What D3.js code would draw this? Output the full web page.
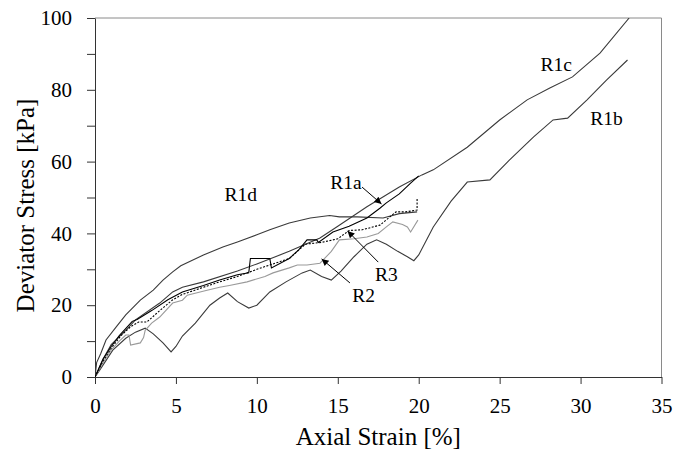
<!DOCTYPE html>
<html>
<head>
<meta charset="utf-8">
<script src="https://cdn.jsdelivr.net/npm/d3@7"></script>
<style>
  body { margin: 0; background: #fff; }
</style>
</head>
<body>
<div id="chart"></div>
<script>
// Deviator stress vs axial strain, six tests

const xTicks = [0, 5, 10, 15, 20, 25, 30, 35]
const yTicks = [0, 20, 40, 60, 80, 100]
const yMinor = [10, 30, 50, 70, 90]

// [strain %, stress kPa]
const r1a = [[0,0],[0.5,5],[1,8.5],[1.5,11.5],[2.3,15.5],[2.6,16],[3.5,18.5],[4.5,21.5],[5.4,23.7],[6.7,25.5],[7.7,27],[8.8,28.5],[9.5,29],[9.6,33],[10.8,33],[10.9,30.4],[12,33],[12.6,35.5],[13.1,38.2],[13.7,38.2],[13.8,37.5],[14.7,40.4],[15.7,42],[16.8,44.3],[17.6,47],[18,48.5],[18.8,51],[19.5,54],[20,56]]
const r1b = [[0,0],[0.3,2],[1.1,7.5],[1.9,10.8],[2.5,12.5],[3.1,13.6],[3.6,12],[4.2,9.5],[4.7,7],[5,8.5],[5.4,11.4],[6.2,15],[7.1,20],[7.7,22],[8.2,23.4],[8.8,21],[9.5,19.2],[10,20],[10.8,23.7],[11.8,26.5],[12.8,29],[13.3,29.8],[14,28],[14.6,27],[15.2,29.5],[16,33.5],[16.8,37],[17.4,38.2],[18,37],[18.7,35],[19.3,33.5],[19.7,32.4],[20,34],[20.9,41.8],[22,49],[23,54.3],[24.4,54.9],[25.6,60.4],[27.1,66.9],[28.3,71.6],[29.2,72.1],[30.4,77.2],[31.6,82.7],[32.9,88.3]]
const r1c = [[0,0],[0.5,5],[1,9],[1.9,13],[2.5,15.9],[4,20.6],[4.8,23.7],[5.4,25],[6.7,26.5],[8.8,29.5],[10,31.5],[12,35],[13.9,38.7],[15,42],[16.8,47.4],[18.8,52.9],[20.2,56.3],[20.9,57.7],[23,64],[25,71.6],[26.7,77.2],[28.1,80.5],[29.5,83.6],[31.2,90.2],[33,100]]
const r1d = [[0,0],[0.1,4],[0.35,6.5],[0.68,10.3],[1.3,13.9],[1.9,17.3],[2.8,21.4],[3.6,24.2],[4.2,27],[4.8,29.3],[5.3,31],[6.7,34],[7.9,36.2],[8.8,37.6],[10,39.6],[10.8,41],[12,42.9],[13.3,44.3],[14.5,45],[15.1,44.6],[16.2,44.6],[17.8,44.3],[18.8,45.5],[19.9,46]]
const r2 = [[0,0],[0.5,4],[1,7.5],[1.5,10],[1.9,11.7],[2.1,11.7],[2.2,8.9],[2.8,9.5],[3,11],[3.1,13],[3.5,15],[4,16.7],[4.8,20.6],[5.4,21.4],[5.7,22.8],[6.8,24],[7.7,25],[8.3,25.5],[9.4,26.5],[10.5,28],[11,29],[12,30.4],[12.5,31.2],[13.1,31.2],[13.9,31.7],[14.1,32.6],[14.6,35],[15.1,38.2],[16,38.5],[16.8,39],[17.5,40],[18,41.8],[18.4,43.2],[19,42.5],[19.3,41.8],[19.5,40.4],[19.95,43.7]]
const r3 = [[0,0],[0.5,4.5],[1,8],[1.6,11.5],[2.2,14],[2.7,15.3],[3.2,15.3],[4,18.5],[4.8,21.5],[5.4,23],[6.7,25],[7.7,26.5],[8.8,28],[10,30],[11,31.5],[12,33],[13,37],[14,37.5],[15,38.5],[15.7,40.8],[16.5,41],[17.6,42.3],[18.6,46],[19.2,46],[19.9,46.5],[19.9,50]]

const series = [
  { data: r1b, color: '#3a3a3a', dash: null },
  { data: r1c, color: '#3a3a3a', dash: null },
  { data: r1d, color: '#3a3a3a', dash: null },
  { data: r2, color: '#9a9a9a', dash: null },
  { data: r3, color: '#000', dash: '2,1.5' },
  { data: r1a, color: '#000', dash: null }
]

// label text, label position, optional arrow [from, to]
const labels = [
  { text: 'R1c', at: [28.5, 87.2] },
  { text: 'R1b', at: [31.6, 72.2] },
  { text: 'R1d', at: [9, 50.8] },
  { text: 'R1a', at: [15.5, 54.4], arrow: [[16.5, 52.9], [17.7, 48.2]] },
  { text: 'R3', at: [18, 28.7], arrow: [[17.5, 32], [15.6, 40.7]] },
  { text: 'R2', at: [16.6, 22.9], arrow: [[15.75, 26.2], [14.0, 32.9]] }
]

const serif = 'Liberation Serif'
const width = 677
const height = 454
const margin = { top: 18, right: 15.5, bottom: 77, left: 95 }

const svg = d3.select('#chart')
  .append('svg')
  .attr('width', width)
  .attr('height', height)
  .attr('font-family', serif)

const xScale = d3.scaleLinear()
  .domain([0, 35])
  .range([margin.left, width - margin.right])

const yScale = d3.scaleLinear()
  .domain([0, 100])
  .range([height - margin.bottom, margin.top])

// frame, top and right
svg.append('path')
  .attr('d', `M${xScale(0)},${yScale(100)}H${xScale(35)}V${yScale(0)}`)
  .attr('fill', 'none')
  .attr('stroke', '#8a8a8a')
  .attr('stroke-width', 1)

// axes
svg.append('g')
  .attr('transform', `translate(0, ${yScale(0)})`)
  .call(d3.axisBottom(xScale).tickValues(xTicks).tickSize(7).tickSizeOuter(0).tickPadding(14))
svg.append('g')
  .attr('transform', `translate(${xScale(0)}, 0)`)
  .call(d3.axisLeft(yScale).tickValues(yTicks).tickSize(8).tickSizeOuter(0).tickPadding(15))
svg.append('g')
  .attr('transform', `translate(${xScale(0)}, 0)`)
  .call(d3.axisLeft(yScale).tickValues(yMinor).tickSize(8).tickSizeOuter(0).tickFormat(''))
  .select('.domain').remove()

svg.selectAll('g').attr('font-family', serif).attr('font-size', 21)
svg.selectAll('.domain, .tick line').attr('stroke', '#333')
svg.selectAll('.tick text').attr('fill', '#000')

// axis titles
svg.append('text')
  .attr('x', (xScale(0) + xScale(35)) / 2)
  .attr('y', 445)
  .attr('text-anchor', 'middle')
  .attr('font-size', 25)
  .text('Axial Strain [%]')

svg.append('text')
  .attr('transform', `translate(34, ${(yScale(0) + yScale(100)) / 2 + 8}) rotate(-90)`)
  .attr('text-anchor', 'middle')
  .attr('font-size', 25)
  .text('Deviator Stress [kPa]')

// lines
const clip = svg.append('clipPath').attr('id', 'plot')
clip.append('rect')
  .attr('x', xScale(0)).attr('y', yScale(100))
  .attr('width', xScale(35) - xScale(0)).attr('height', yScale(0) - yScale(100))

const line = d3.line()
  .x(d => xScale(d[0]))
  .y(d => yScale(d[1]))

const plot = svg.append('g').attr('clip-path', 'url(#plot)')
series.forEach(s => {
  plot.append('path')
    .datum(s.data)
    .attr('d', line)
    .attr('fill', 'none')
    .attr('stroke', s.color)
    .attr('stroke-width', 1.1)
    .attr('stroke-dasharray', s.dash)
})

// labels and arrows
svg.append('defs').append('marker')
  .attr('id', 'head')
  .attr('viewBox', '0 0 10 10')
  .attr('refX', 10).attr('refY', 5)
  .attr('markerWidth', 9).attr('markerHeight', 7)
  .attr('markerUnits', 'userSpaceOnUse')
  .attr('orient', 'auto')
  .append('path')
  .attr('d', 'M0,0L10,5L0,10Z')
  .attr('fill', '#000')

labels.forEach(l => {
  svg.append('text')
    .attr('x', xScale(l.at[0]))
    .attr('y', yScale(l.at[1]))
    .attr('text-anchor', 'middle')
    .attr('dy', '0.35em')
    .attr('font-size', 19.5)
    .text(l.text)
  if (l.arrow) {
    svg.append('line')
      .attr('x1', xScale(l.arrow[0][0])).attr('y1', yScale(l.arrow[0][1]))
      .attr('x2', xScale(l.arrow[1][0])).attr('y2', yScale(l.arrow[1][1]))
      .attr('stroke', '#000')
      .attr('stroke-width', 1)
      .attr('marker-end', 'url(#head)')
  }
})
</script>
</body>
</html>
